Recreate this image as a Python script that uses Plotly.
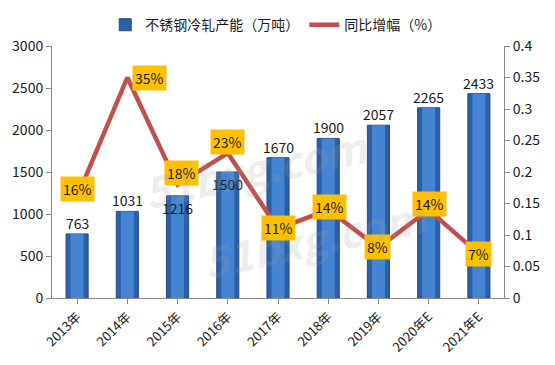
import plotly.graph_objects as go

years = ["2013年", "2014年", "2015年", "2016年", "2017年", "2018年", "2019年", "2020年E", "2021年E"]
capacity = [763, 1031, 1216, 1500, 1670, 1900, 2057, 2265, 2433]
growth = [0.16, 0.35, 0.18, 0.23, 0.11, 0.14, 0.08, 0.14, 0.07]
growth_labels = ["16%", "35%", "18%", "23%", "11%", "14%", "8%", "14%", "7%"]

FONT = "Noto Sans CJK SC, sans-serif"

fig = go.Figure()
fig.add_trace(go.Bar(
    x=years, y=capacity, name="不锈钢冷轧产能（万吨）",
    marker=dict(color="#2C5FA6", line=dict(color="#234E8A", width=1)),
    width=0.44, yaxis="y",
))
# lighter centre strip to mimic the original bar shading
fig.add_trace(go.Bar(
    x=years, y=capacity, showlegend=False, hoverinfo="skip",
    marker=dict(color="#4484D2", line=dict(width=0)),
    width=0.26, yaxis="y",
))
fig.add_trace(go.Scatter(
    x=years, y=growth, name="同比增幅（%）", mode="lines",
    line=dict(color="#C0504D", width=4.5), yaxis="y2",
))

# bar value labels (two moved down into the bar, as in the original)
bar_shift = [11, 11, -12, -12, 11, 11, 11, 11, 11]
for xv, v, s in zip(years, capacity, bar_shift):
    fig.add_annotation(x=xv, y=v, yref="y", text=str(v), showarrow=False,
                       yshift=s, font=dict(family=FONT, size=14, color="#1a1a1a"))

# percent labels in yellow boxes
pct_shift = [(0, 8), (22, 0), (4, 12), (0, 11), (0, 1), (1, 3), (-1, 1), (1, 6), (0, 0)]
for xv, v, t, (dx, dy) in zip(years, growth, growth_labels, pct_shift):
    fig.add_annotation(x=xv, y=v, yref="y2", text=t, showarrow=False,
                       xshift=dx, yshift=dy, bgcolor="#FFC000", borderpad=2,
                       font=dict(family=FONT, size=14, color="#1a1a1a"))

# faint watermark
fig.add_annotation(xref="paper", yref="paper", x=0.45, y=0.74, text="<b><i>51bxg.com</i></b>",
                   showarrow=False, textangle=-12, font=dict(family=FONT, size=42, color="rgba(160,160,160,0.2)"))
fig.add_annotation(xref="paper", yref="paper", x=0.58, y=0.02, text="<b><i>51bxg.com</i></b>",
                   showarrow=False, textangle=-12, font=dict(family=FONT, size=42, color="rgba(160,160,160,0.2)"))

fig.update_layout(
    width=547, height=357,
    margin=dict(l=44, r=51, t=38, b=67, autoexpand=False),
    paper_bgcolor="white", plot_bgcolor="white",
    font=dict(family=FONT, size=14, color="#1a1a1a"),
    showlegend=True,
    barmode="overlay",
    legend=dict(orientation="h", x=0.495, xanchor="center", y=0.952, yref="container", yanchor="middle",
                font=dict(family=FONT, size=14, color="#1a1a1a"), itemwidth=30, tracegroupgap=0),
    xaxis=dict(tickangle=-45, showline=True, linecolor="#888", ticks="outside", ticklen=5,
               tickcolor="#888", tickfont=dict(size=13), showgrid=False, automargin=False),
    yaxis=dict(range=[0, 3000], dtick=500, showline=True, linecolor="#888", ticks="outside",
               tickcolor="#888", ticklen=5, showgrid=False, zeroline=False, automargin=False),
    yaxis2=dict(range=[0, 0.4], dtick=0.05, overlaying="y", side="right", showline=True,
                linecolor="#888", ticks="outside", tickcolor="#888", ticklen=5, showgrid=False,
                zeroline=False, tickformat="~g", automargin=False),
)

fig.write_html("out.html")
